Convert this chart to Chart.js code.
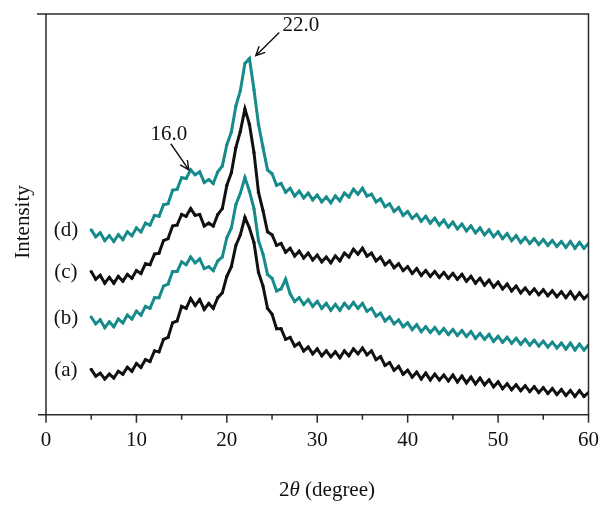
<!DOCTYPE html>
<html>
<head>
<meta charset="utf-8">
<script src="https://cdn.jsdelivr.net/npm/chart.js@4.4.1/dist/chart.umd.min.js"></script>
<style>
  body { margin: 0; background: #fff; }
</style>
</head>
<body>
<canvas id="xrd-chart" width="612" height="512"></canvas>
<script>
// 2theta positions, 0.5 degree step
const angles = [
  5, 5.5, 6, 6.5, 7, 7.5, 8, 8.5, 9, 9.5,
  10, 10.5, 11, 11.5, 12, 12.5, 13, 13.5, 14, 14.5,
  15, 15.5, 16, 16.5, 17, 17.5, 18, 18.5, 19, 19.5,
  20, 20.5, 21, 21.5, 22, 22.5, 23, 23.5, 24, 24.5,
  25, 25.5, 26, 26.5, 27, 27.5, 28, 28.5, 29, 29.5,
  30, 30.5, 31, 31.5, 32, 32.5, 33, 33.5, 34, 34.5,
  35, 35.5, 36, 36.5, 37, 37.5, 38, 38.5, 39, 39.5,
  40, 40.5, 41, 41.5, 42, 42.5, 43, 43.5, 44, 44.5,
  45, 45.5, 46, 46.5, 47, 47.5, 48, 48.5, 49, 49.5,
  50, 50.5, 51, 51.5, 52, 52.5, 53, 53.5, 54, 54.5,
  55, 55.5, 56, 56.5, 57, 57.5, 58, 58.5, 59, 59.5,
  60,
];

// intensities (arbitrary units, curves already offset)
const curveA = [
  47, 40, 43, 37, 42, 38, 45, 42, 49, 45,
  53, 49, 57, 55, 66, 65, 78, 80, 95, 97,
  112, 110, 120, 113, 119, 109, 115, 110, 121, 126,
  143, 153, 175, 186, 204, 193, 178, 147, 133, 110,
  104, 89, 89, 78, 80, 71, 74, 66, 70, 63,
  68, 61, 66, 60, 65, 59, 66, 61, 68, 63,
  69, 62, 66, 57, 60, 51, 54, 46, 50, 42,
  46, 39, 44, 37, 43, 36, 42, 36, 41, 35,
  41, 34, 40, 33, 39, 32, 38, 31, 36, 29,
  34, 27, 32, 26, 31, 25, 30, 24, 29, 23,
  28, 22, 27, 21, 26, 20, 25, 19, 25, 19,
  23,
];

const curveB = [
  101, 94, 98, 90, 96, 91, 99, 95, 103, 99,
  107, 103, 112, 110, 121, 121, 133, 135, 148, 148,
  158, 155, 163, 157, 161, 151, 153, 149, 159, 163,
  183, 193, 217, 229, 245, 231, 213, 180, 166, 145,
  141, 128, 130, 140, 125, 117, 121, 114, 119, 112,
  117, 110, 115, 108, 114, 108, 115, 110, 116, 110,
  115, 107, 110, 102, 105, 97, 101, 94, 98, 91,
  95, 88, 93, 86, 91, 85, 90, 84, 89, 83,
  88, 82, 87, 81, 86, 79, 84, 78, 83, 76,
  81, 75, 80, 74, 79, 73, 78, 72, 77, 71,
  76, 70, 75, 69, 74, 68, 74, 67, 73, 67,
  72,
];

const curveC = [
  148, 140, 144, 136, 142, 136, 143, 138, 145, 141,
  149, 146, 156, 155, 166, 167, 180, 182, 195, 196,
  207, 205, 213, 206, 207, 195, 198, 195, 207, 213,
  237, 250, 276, 293, 316, 300, 271, 230, 211, 189,
  186, 175, 177, 168, 172, 164, 169, 162, 167, 160,
  165, 158, 163, 157, 164, 159, 167, 163, 171, 166,
  172, 164, 167, 159, 163, 155, 159, 152, 156, 149,
  153, 146, 151, 144, 149, 143, 148, 142, 147, 141,
  146, 140, 145, 138, 143, 136, 141, 134, 139, 132,
  137, 130, 135, 128, 133, 126, 131, 125, 130, 124,
  129, 123, 128, 122, 127, 121, 127, 120, 126, 120,
  124,
];

const curveD = [
  191, 184, 188, 180, 185, 179, 186, 181, 189, 185,
  193, 189, 198, 196, 206, 205, 217, 218, 232, 233,
  245, 244, 253, 248, 251, 240, 243, 239, 251, 257,
  279, 292, 319, 335, 363, 368, 336, 300, 276, 253,
  249, 237, 239, 230, 234, 226, 231, 224, 229, 222,
  227, 220, 225, 219, 226, 221, 229, 225, 233, 228,
  234, 226, 228, 220, 223, 215, 218, 210, 214, 206,
  210, 203, 207, 200, 205, 198, 203, 196, 201, 194,
  199, 192, 197, 190, 195, 188, 193, 186, 191, 184,
  189, 182, 187, 180, 185, 178, 183, 177, 182, 176,
  181, 175, 180, 174, 179, 173, 179, 172, 178, 172,
  177,
];

const curveLabels = ["(a)", "(b)", "(c)", "(d)"];
const curveColors = ["#111111", "#178b8b", "#111111", "#178b8b"];
const xTicks = [0, 10, 20, 30, 40, 50, 60];
const xMinorTicks = [5, 15, 25, 35, 45, 55];

// peak markers: text, text position, arrow tail, arrow head
const peakNotes = [
  { text: "16.0", at: [13.6, 290], from: [13.8, 280], to: [15.8, 253] },
  { text: "22.0", at: [28.2, 402], from: [25.8, 395], to: [23.2, 371] },
];

const serif = "'Liberation Serif', 'DejaVu Serif', serif";
const labelX = 2.2;

const toPoints = (values) => angles.map((x, i) => ({ x, y: values[i] }));

const drawArrow = (ctx, x1, y1, x2, y2) => {
  const ang = Math.atan2(y2 - y1, x2 - x1);
  const head = 10;
  ctx.beginPath();
  ctx.moveTo(x1, y1);
  ctx.lineTo(x2, y2);
  ctx.moveTo(x2 - head * Math.cos(ang - 0.45), y2 - head * Math.sin(ang - 0.45));
  ctx.lineTo(x2, y2);
  ctx.lineTo(x2 - head * Math.cos(ang + 0.45), y2 - head * Math.sin(ang + 0.45));
  ctx.stroke();
};

const decorations = {
  id: "decorations",
  afterDraw(chart) {
    const { ctx, chartArea, scales } = chart;
    const xs = scales.x;
    const ys = scales.y;
    const { left, right, top, bottom } = chartArea;

    ctx.save();

    // frame
    ctx.strokeStyle = "#2b2b2b";
    ctx.lineWidth = 1.5;
    ctx.beginPath();
    ctx.moveTo(left - 9, top);
    ctx.lineTo(right, top);
    ctx.lineTo(right, bottom);
    ctx.lineTo(left - 8, bottom);
    ctx.moveTo(left, top);
    ctx.lineTo(left, bottom);
    ctx.stroke();

    // ticks below the x axis
    ctx.beginPath();
    xTicks.forEach((t) => {
      const px = xs.getPixelForValue(t);
      ctx.moveTo(px, bottom);
      ctx.lineTo(px, bottom + 8);
    });
    xMinorTicks.forEach((t) => {
      const px = xs.getPixelForValue(t);
      ctx.moveTo(px, bottom);
      ctx.lineTo(px, bottom + 5);
    });
    ctx.stroke();

    ctx.fillStyle = "#111";
    ctx.font = "21px " + serif;
    ctx.textBaseline = "middle";

    // curve labels
    ctx.textAlign = "center";
    const curves = [curveA, curveB, curveC, curveD];
    curves.forEach((values, i) => {
      ctx.fillText(curveLabels[i], xs.getPixelForValue(labelX), ys.getPixelForValue(values[0]) + 1);
    });

    // peak notes
    ctx.lineWidth = 1.4;
    ctx.strokeStyle = "#111";
    peakNotes.forEach((note) => {
      ctx.fillText(note.text, xs.getPixelForValue(note.at[0]), ys.getPixelForValue(note.at[1]));
      drawArrow(
        ctx,
        xs.getPixelForValue(note.from[0]), ys.getPixelForValue(note.from[1]),
        xs.getPixelForValue(note.to[0]), ys.getPixelForValue(note.to[1])
      );
    });

    // y title
    ctx.save();
    ctx.translate(23, 222);
    ctx.rotate(-Math.PI / 2);
    ctx.fillText("Intensity", 0, 0);
    ctx.restore();

    // x title: 2θ (degree) with italic theta
    const parts = [
      { s: "2", font: "21px " + serif },
      { s: "\u03B8", font: "italic 21px " + serif },
      { s: " (degree)", font: "21px " + serif },
    ];
    let total = 0;
    parts.forEach((p) => {
      ctx.font = p.font;
      p.w = ctx.measureText(p.s).width;
      total += p.w;
    });
    let cx = 327 - total / 2;
    ctx.textAlign = "left";
    parts.forEach((p) => {
      ctx.font = p.font;
      ctx.fillText(p.s, cx, 490);
      cx += p.w;
    });

    ctx.restore();
  },
};

const datasets = [curveA, curveB, curveC, curveD].map((values, i) => ({
  label: curveLabels[i],
  data: toPoints(values),
  borderColor: curveColors[i],
  backgroundColor: curveColors[i],
  borderWidth: 3,
  pointRadius: 1.6,
  pointBorderWidth: 0,
  tension: 0,
}));

new Chart(document.getElementById("xrd-chart"), {
  type: "line",
  data: { datasets },
  options: {
    responsive: false,
    animation: false,
    layout: { padding: { left: 46, right: 23.5, top: 14, bottom: 46 } },
    plugins: {
      legend: { display: false },
      tooltip: { enabled: false },
    },
    scales: {
      x: {
        type: "linear",
        min: 0,
        max: 60,
        border: { display: false },
        grid: { display: false, drawTicks: false },
        ticks: {
          stepSize: 10,
          padding: 13,
          color: "#111",
          font: { family: serif, size: 21 },
        },
      },
      y: {
        display: false,
        min: 0,
        max: 414,
      },
    },
  },
  plugins: [decorations],
});
</script>
</body>
</html>
